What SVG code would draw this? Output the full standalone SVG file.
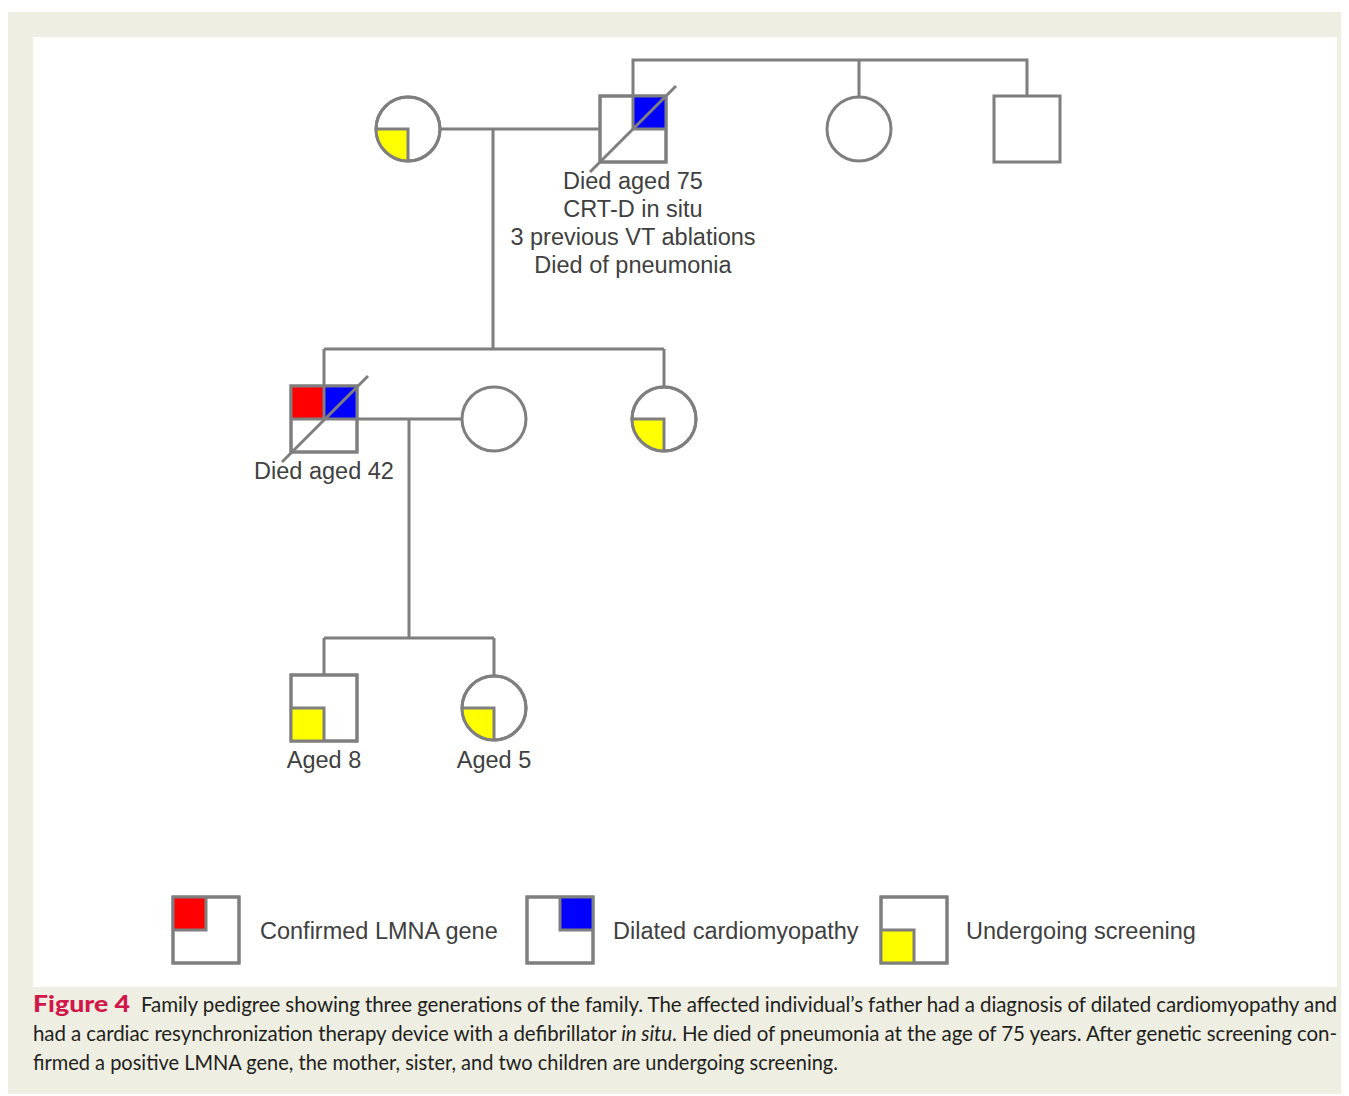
<svg xmlns="http://www.w3.org/2000/svg" width="1349" height="1096" viewBox="0 0 1349 1096">
<style>
.ln{stroke:#7f7f7f;stroke-width:3;fill:none}
.sym{stroke:#7f7f7f;stroke-width:3;fill:#fff}
.t{font-family:"Liberation Sans",Arial,sans-serif;font-size:23.5px;fill:#404040;text-anchor:middle}
.lg{font-family:"Liberation Sans",Arial,sans-serif;font-size:23.5px;fill:#404040}
.cap{font-family:Lato,"Open Sans",sans-serif;font-size:20.5px;fill:#231f20}
.y{fill:#ffff00}.b{fill:#0000ff}.r{fill:#ff0000}
</style>
<rect x="0" y="0" width="1349" height="1096" fill="#fff"/>
<rect x="8" y="12" width="1333" height="1082" fill="#eeeee2"/>
<rect x="33" y="37" width="1304" height="950" fill="#fff"/>

<g id="connectors">
<path class="ln" d="M441 129H600"/>
<path class="ln" d="M633 96V60H1027V96M859 60V97"/>
<path class="ln" d="M493 129V349M324 349H664M324 349V386M664 349V387"/>
<path class="ln" d="M357 419H462"/>
<path class="ln" d="M409 419V638M324 638H494M324 638V675M494 638V676"/>
</g>

<g id="gen1-mother">
<circle class="sym" cx="408" cy="129" r="32"/>
<path class="y" d="M408 129H376A32 32 0 0 0 408 161Z"/>
<path class="ln" d="M376 129H408V161"/>
<circle class="ln" cx="408" cy="129" r="32"/>
</g>

<g id="gen1-father">
<rect class="sym" x="600" y="96" width="66" height="66"/>
<rect class="b" x="633" y="96" width="33" height="33"/>
<path class="ln" d="M633 96V129H666"/>
<rect class="ln" x="600" y="96" width="66" height="66"/>
<path class="ln" d="M590 172L676 86"/>
<text class="t" x="633" y="189">Died aged 75</text>
<text class="t" x="633" y="217">CRT-D in situ</text>
<text class="t" x="633" y="245">3 previous VT ablations</text>
<text class="t" x="633" y="273">Died of pneumonia</text>
</g>

<g id="gen1-aunt">
<circle class="sym" cx="859" cy="129" r="32"/>
</g>

<g id="gen1-uncle">
<rect class="sym" x="994" y="96" width="66" height="66"/>
</g>

<g id="gen2-proband">
<rect class="sym" x="291" y="386" width="66" height="66"/>
<rect class="r" x="291" y="386" width="33" height="33"/>
<rect class="b" x="324" y="386" width="33" height="33"/>
<path class="ln" d="M324 386V419M291 419H357"/>
<rect class="ln" x="291" y="386" width="66" height="66"/>
<path class="ln" d="M282 462L368 376"/>
<text class="t" x="324" y="479">Died aged 42</text>
</g>

<g id="gen2-wife">
<circle class="sym" cx="494" cy="419" r="32"/>
</g>

<g id="gen2-sister">
<circle class="sym" cx="664" cy="419" r="32"/>
<path class="y" d="M664 419H632A32 32 0 0 0 664 451Z"/>
<path class="ln" d="M632 419H664V451"/>
<circle class="ln" cx="664" cy="419" r="32"/>
</g>

<g id="gen3-son">
<rect class="sym" x="291" y="675" width="66" height="66"/>
<rect class="y" x="291" y="708" width="33" height="33"/>
<path class="ln" d="M291 708H324V741"/>
<rect class="ln" x="291" y="675" width="66" height="66"/>
<text class="t" x="324" y="768">Aged 8</text>
</g>

<g id="gen3-daughter">
<circle class="sym" cx="494" cy="708" r="32"/>
<path class="y" d="M494 708H462A32 32 0 0 0 494 740Z"/>
<path class="ln" d="M462 708H494V740"/>
<circle class="ln" cx="494" cy="708" r="32"/>
<text class="t" x="494" y="768">Aged 5</text>
</g>

<g id="legend-lmna">
<rect class="sym" x="173" y="897" width="66" height="66"/>
<rect class="r" x="173" y="897" width="33" height="33"/>
<path class="ln" d="M173 930H206V897"/>
<rect class="ln" x="173" y="897" width="66" height="66"/>
<text class="lg" x="260" y="939">Confirmed LMNA gene</text>
</g>

<g id="legend-dcm">
<rect class="sym" x="527" y="897" width="66" height="66"/>
<rect class="b" x="560" y="897" width="33" height="33"/>
<path class="ln" d="M560 897V930H593"/>
<rect class="ln" x="527" y="897" width="66" height="66"/>
<text class="lg" x="613" y="939">Dilated cardiomyopathy</text>
</g>

<g id="legend-screen">
<rect class="sym" x="881" y="897" width="66" height="66"/>
<rect class="y" x="881" y="930" width="33" height="33"/>
<path class="ln" d="M881 930H914V963"/>
<rect class="ln" x="881" y="897" width="66" height="66"/>
<text class="lg" x="966" y="939">Undergoing screening</text>
</g>

<g id="caption">
<text x="33" y="1012" font-family="Lato,'Open Sans',sans-serif" font-weight="900" font-size="22.5px" fill="#d0184a" textLength="97" lengthAdjust="spacingAndGlyphs">Figure 4</text>
<text class="cap" x="141" y="1012" textLength="1196" lengthAdjust="spacing">Family pedigree showing three generations of the family. The affected individual’s father had a diagnosis of dilated cardiomyopathy and</text>
<text class="cap" x="33" y="1041" textLength="1304" lengthAdjust="spacing">had a cardiac resynchronization therapy device with a defibrillator <tspan font-style="italic">in situ</tspan>. He died of pneumonia at the age of 75 years. After genetic screening con-</text>
<text class="cap" x="33" y="1070" textLength="805" lengthAdjust="spacingAndGlyphs">firmed a positive LMNA gene, the mother, sister, and two children are undergoing screening.</text>
</g>
</svg>
